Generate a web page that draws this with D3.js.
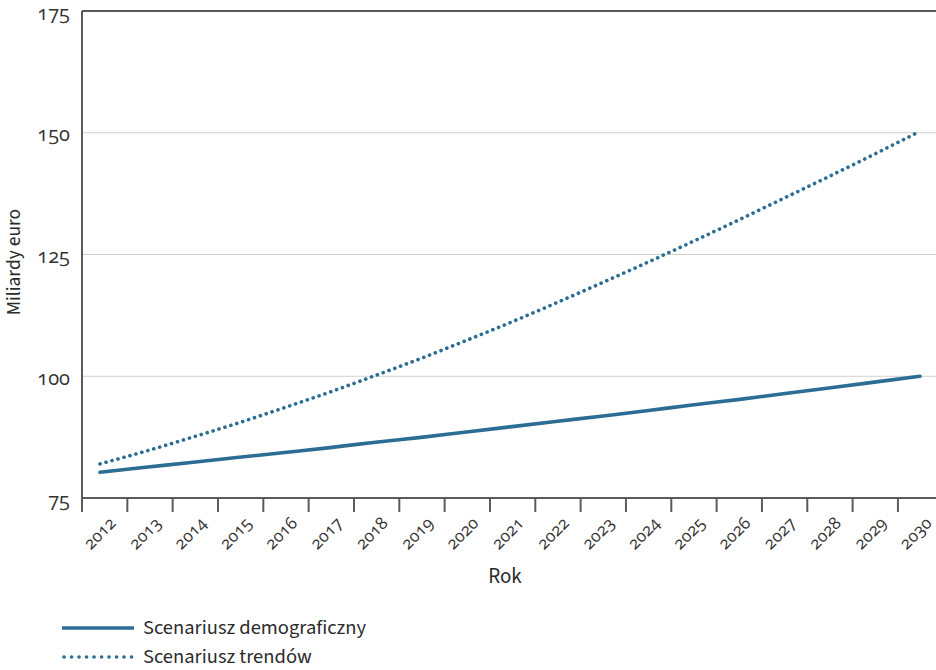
<!DOCTYPE html>
<html>
<head>
<meta charset="utf-8">
<script src="https://cdn.jsdelivr.net/npm/d3@7"></script>
<style>
  html, body { margin: 0; padding: 0; background: #fff; }
  svg { display: block; }
  text.num { font-variant-numeric: oldstyle-nums; font-feature-settings: "onum" 1; fill: #333; }
  .lbl { font-family: "Source Sans 3", "Noto Sans", sans-serif; fill: #2b2b2b; }
</style>
</head>
<body>
<svg id="chart" width="936" height="670"></svg>
<script>
// Years on the horizontal axis
const years = [2012, 2013, 2014, 2015, 2016, 2017, 2018, 2019, 2020, 2021,
               2022, 2023, 2024, 2025, 2026, 2027, 2028, 2029, 2030];

// Expenditure in billions of euro, per scenario
const demographic = [80.3, 81.3, 82.3, 83.3, 84.3, 85.3, 86.4, 87.4, 88.5, 89.6,
                     90.7, 91.8, 92.9, 94.1, 95.2, 96.4, 97.6, 98.8, 100.0];
const trend = [82.0, 84.6, 87.4, 90.3, 93.4, 96.6, 100.0, 103.5, 107.2, 111.0,
               115.0, 119.1, 123.3, 127.6, 132.0, 136.5, 141.0, 145.6, 150.3];

const yTicks = [75, 100, 125, 150, 175];
const gridTicks = [100, 125, 150];

const seriesNames = ["Scenariusz demograficzny", "Scenariusz trendów"];
const yTitle = "Miliardy euro";
const xTitle = "Rok";

const svg = d3.select("#chart");
const W = 936;
const plotLeft = 82, plotBottom = 498, plotTop = 11;
const colour = "#2b6d93";
const axisColour = "#5a5a5a";
const numFont = '"Open Sans", "Noto Sans", sans-serif';

// Old-style figures for the axis numbers
function oldStyle(sel) {
  sel.attr("class", "num")
    .style("font-family", numFont)
    .style("font-variant-numeric", "oldstyle-nums")
    .style("font-feature-settings", '"onum" 1');
}

// Category bands for the axis ticks
const xBand = d3.scaleBand().domain(years).range([plotLeft, plotLeft + 45.33 * years.length]).padding(0);
// Position of each yearly value along the plot
const x = d3.scaleLinear().domain([2012, 2030]).range([100, 920]);
const y = d3.scaleLinear().domain([75, 175]).range([plotBottom, plotTop]);

// Horizontal gridlines
svg.append("g").selectAll("line").data(gridTicks).join("line")
  .attr("x1", plotLeft).attr("x2", W)
  .attr("y1", d => y(d)).attr("y2", d => y(d))
  .attr("stroke", "#cfcfcf").attr("stroke-width", 1.2);

// Top frame line
svg.append("line")
  .attr("x1", plotLeft).attr("x2", W).attr("y1", y(175)).attr("y2", y(175))
  .attr("stroke", axisColour).attr("stroke-width", 2);

// Y axis
const yAxis = svg.append("g").attr("transform", `translate(${plotLeft},0)`)
  .call(d3.axisLeft(y).tickValues(yTicks).tickSize(0).tickPadding(12));
yAxis.select(".domain").attr("stroke", axisColour).attr("stroke-width", 2)
  .attr("d", `M0,${y(175)}V${plotBottom + 14}`);
yAxis.attr("font-family", null).attr("font-size", null);
yAxis.selectAll("text").call(oldStyle).attr("font-size", 20)
  .attr("dy", "0.4em");

// X axis: ticks at the band boundaries, labels at the band centres
const xg = svg.append("g").attr("transform", `translate(0,${plotBottom})`);
xg.append("line").attr("x1", plotLeft).attr("x2", W).attr("y1", 0).attr("y2", 0)
  .attr("stroke", axisColour).attr("stroke-width", 2);
xg.selectAll("line.tick").data(years.slice(1)).join("line")
  .attr("class", "tick")
  .attr("x1", d => xBand(d)).attr("x2", d => xBand(d))
  .attr("y1", 0).attr("y2", 14)
  .attr("stroke", axisColour).attr("stroke-width", 2);
xg.selectAll("text").data(years).join("text")
  .call(oldStyle)
  .attr("font-size", 17)
  .attr("text-anchor", "end")
  .attr("transform", d => `translate(${xBand(d) + xBand.bandwidth() / 2 + 8},${22}) rotate(-45)`)
  .attr("dy", "0.35em")
  .text(d => d);

// Series lines
const line = d3.line().x((d, i) => x(years[i])).y(d => y(d)).curve(d3.curveMonotoneX);

svg.append("path").datum(demographic)
  .attr("d", line).attr("fill", "none")
  .attr("stroke", colour).attr("stroke-width", 3.6).attr("stroke-linecap", "round");

svg.append("path").datum(trend)
  .attr("d", line).attr("fill", "none")
  .attr("stroke", colour).attr("stroke-width", 3.6)
  .attr("stroke-linecap", "round").attr("stroke-dasharray", "0.1 6.1");

// Axis titles
svg.append("text").attr("class", "lbl").attr("font-size", 19.5)
  .attr("text-anchor", "middle")
  .attr("transform", `translate(20,${262}) rotate(-90)`)
  .text(yTitle);
svg.append("text").attr("class", "lbl").attr("font-size", 21)
  .attr("text-anchor", "middle")
  .attr("x", 505).attr("y", 583)
  .text(xTitle);

// Legend
const legend = svg.append("g");
const rows = [{ name: seriesNames[0], dash: null, y: 628 },
              { name: seriesNames[1], dash: "0.1 7.4", y: 657 }];
rows.forEach(r => {
  legend.append("line")
    .attr("x1", r.dash ? 64 : 62).attr("x2", 134).attr("y1", r.y).attr("y2", r.y)
    .attr("stroke", colour).attr("stroke-width", 3.6)
    .attr("stroke-linecap", r.dash ? "round" : "butt")
    .attr("stroke-dasharray", r.dash);
  legend.append("text").attr("class", "lbl").attr("font-size", 20.5)
    .attr("x", 143).attr("y", r.y + 6)
    .text(r.name);
});
</script>
</body>
</html>
